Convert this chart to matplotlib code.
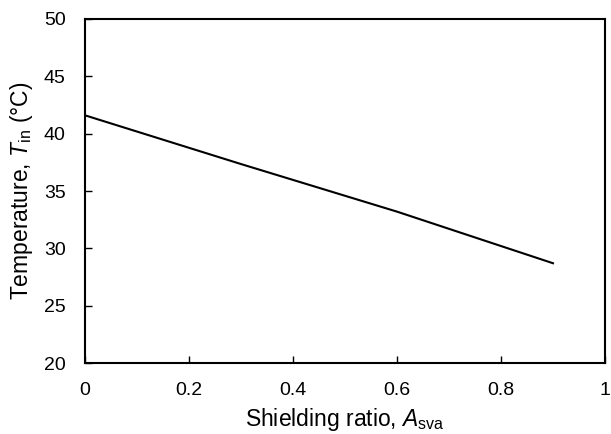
import matplotlib
matplotlib.use("Agg")
import matplotlib.pyplot as plt

# datos
ratio = [0.0, 0.3, 0.6, 0.9]
temp_in = [41.6, 37.35, 33.2, 28.7]

plt.rcParams['font.family'] = 'Liberation Sans'
plt.rcParams['mathtext.fontset'] = 'custom'
plt.rcParams['mathtext.rm'] = 'Liberation Sans'
plt.rcParams['mathtext.it'] = 'Liberation Sans:italic'

fig = plt.figure(figsize=(6.11, 4.34), dpi=100)
ax = fig.add_axes([85/611, 1 - 363/434, (605-85)/611, (363-19)/434])

ax.plot(ratio, temp_in, color='black', linewidth=1.5)

ax.set_xlim(0, 1)
ax.set_ylim(20, 50)
ax.set_xticks([0, 0.2, 0.4, 0.6, 0.8, 1])
ax.set_xticklabels(['0', '0.2', '0.4', '0.6', '0.8', '1'])
ax.set_yticks([20, 25, 30, 35, 40, 45, 50])
ax.tick_params(direction='in', labelsize=14, length=5, width=1, pad=14)
for s in ax.spines.values():
    s.set_linewidth(1.5)

ax.set_xlabel(r'Shielding ratio, $A_{\rm sva}$', fontsize=16.5, labelpad=5)
ax.set_ylabel(r'Temperature, $T_{\rm in}$ (°C)', fontsize=16.5, labelpad=6)

fig.savefig('out.png', dpi=100)
